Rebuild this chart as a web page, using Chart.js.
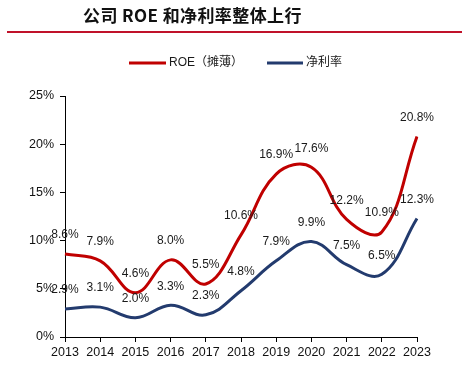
<!DOCTYPE html>
<html><head><meta charset="utf-8">
<script src="https://cdn.jsdelivr.net/npm/chart.js@4"></script>
<style>
html,body{margin:0;padding:0;background:#fff;}
#wrap{position:relative;width:468px;height:371px;overflow:hidden;}
#title{position:absolute;left:83px;top:2px;font:bold 17px "Noto Sans CJK SC";color:#111;white-space:nowrap;letter-spacing:0.4px;}
#rule{position:absolute;left:7px;top:31px;width:455px;height:0;border-top:2px solid #c0122a;}
canvas{position:absolute;left:0;top:0;}
</style></head>
<body><div id="wrap">
<canvas id="c" width="468" height="371"></canvas>
<div id="title">公司 ROE 和净利率整体上行</div>
<div id="rule"></div>
</div>
<script>
const years = ['2013','2014','2015','2016','2017','2018','2019','2020','2021','2022','2023'];
const roe = [8.6, 7.9, 4.6, 8.0, 5.5, 10.6, 16.9, 17.6, 12.2, 10.9, 20.8];
const netMargin = [2.9, 3.1, 2.0, 3.3, 2.3, 4.8, 7.9, 9.9, 7.5, 6.5, 12.3];
const seriesNames = ['ROE（摊薄）', '净利率'];
const colors = ['#c00000', '#233b6e'];

const labelPlugin = {
  id: 'pointLabels',
  afterDatasetsDraw(chart) {
    const ctx = chart.ctx;
    ctx.save();
    ctx.font = '12px "Liberation Sans", Arial, sans-serif';
    ctx.fillStyle = '#1a1a1a';
    ctx.textAlign = 'center';
    ctx.textBaseline = 'middle';
    chart.data.datasets.forEach((ds, i) => {
      const meta = chart.getDatasetMeta(i);
      meta.data.forEach((pt, j) => {
        ctx.fillText(ds.data[j].toFixed(1) + '%', pt.x, pt.y - 19);
      });
    });
    ctx.restore();
  }
};

// legend drawn at fixed layout positions
const legendPos = [{x: 129, w: 37}, {x: 267, w: 36}];
const legendPlugin = {
  id: 'fixedLegend',
  afterDraw(chart) {
    const ctx = chart.ctx;
    ctx.save();
    ctx.font = '12px "Liberation Sans", "Noto Sans CJK SC", sans-serif';
    ctx.fillStyle = '#1a1a1a';
    ctx.textAlign = 'left';
    ctx.textBaseline = 'middle';
    chart.data.datasets.forEach((ds, i) => {
      const p = legendPos[i];
      ctx.strokeStyle = ds.borderColor;
      ctx.lineWidth = 3;
      ctx.beginPath();
      ctx.moveTo(p.x, 63);
      ctx.lineTo(p.x + p.w, 63);
      ctx.stroke();
      ctx.fillText(ds.label, p.x + p.w + 3, 63);
    });
    ctx.restore();
  }
};

new Chart(document.getElementById('c'), {
  type: 'line',
  data: {
    labels: years,
    datasets: [
      {label: seriesNames[0], data: roe, borderColor: colors[0], backgroundColor: colors[0], borderWidth: 3, pointRadius: 0, tension: 0.4, fill: false},
      {label: seriesNames[1], data: netMargin, borderColor: colors[1], backgroundColor: colors[1], borderWidth: 3, pointRadius: 0, tension: 0.4, fill: false}
    ]
  },
  options: {
    responsive: false,
    animation: false,
    layout: {padding: {left: 0, right: 51, top: 96, bottom: 0}},
    plugins: {
      title: {display: false},
      tooltip: {enabled: false},
      legend: {display: false}
    },
    scales: {
      x: {
        type: 'category',
        offset: false,
        grid: {display: true, drawOnChartArea: false, drawTicks: true, tickLength: 5, color: '#000'},
        border: {display: true, color: '#000', width: 1},
        ticks: {color: '#111', font: {size: 12.5, family: '"Liberation Sans", Arial, sans-serif'}, padding: 3, maxRotation: 0, autoSkip: false},
        afterFit(s) { s.height = 34; }
      },
      y: {
        min: 0, max: 25,
        grid: {display: true, drawOnChartArea: false, drawTicks: true, tickLength: 5, color: '#000'},
        border: {display: true, color: '#000', width: 1},
        ticks: {stepSize: 5, color: '#111', font: {size: 12.5, family: '"Liberation Sans", Arial, sans-serif'}, padding: 6, callback: v => v + '%'},
        afterFit(s) { s.width = 65; }
      }
    }
  },
  plugins: [labelPlugin, legendPlugin]
});
</script>
</body></html>
